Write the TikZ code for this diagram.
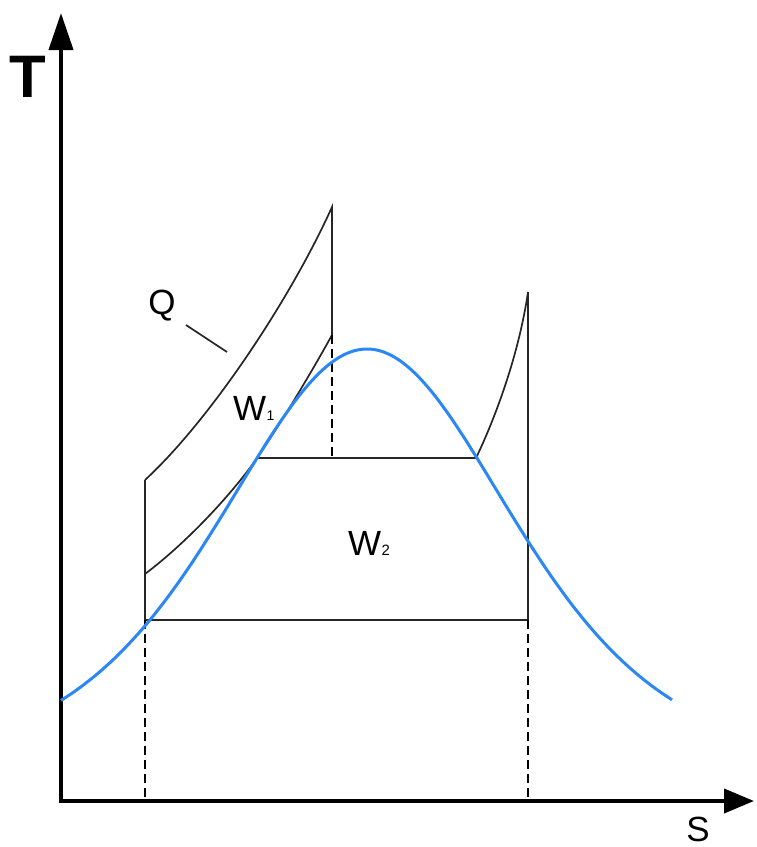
\documentclass[tikz,border=0pt]{standalone}
\usepackage{fontspec}
\setmainfont{Liberation Sans}
\usetikzlibrary{arrows.meta}
\definecolor{domeblue}{HTML}{2B87F5}

\begin{document}
\begin{tikzpicture}[
    x=1pt, y=-1pt,
    axis/.style={line width=4pt, {Triangle[length=37pt,width=24pt]}-{Triangle[length=30pt,width=24pt]}},
    cyc/.style={line width=1.7pt, black!85},
    guide/.style={line width=1.3pt, dash pattern=on 9pt off 5pt},
    dome/.style={line width=3pt, domeblue},
    lbl/.style={inner sep=0pt, font=\fontsize{35}{35}\selectfont},
]
    \useasboundingbox (0,0) rectangle (756,847);

    % axes
    \coordinate (ttip) at (61,13);
    \coordinate (o) at (61,801);
    \coordinate (stip) at (754,801);
    \draw[axis] (ttip) -- (o) -- (stip);
    \node[inner sep=0pt, font=\fontsize{60}{60}\selectfont\bfseries] (tlabel) at (28,77) {T};
    \node[inner sep=0pt, font=\fontsize{35}{35}\selectfont, anchor=base] (slabel) at (698,841) {S};

    % cycle points
    \coordinate (pin) at (145,620);
    \coordinate (pout) at (528,620);
    \coordinate (hp) at (145,480);
    \coordinate (hptop) at (332,207);
    \coordinate (rh) at (332,335);
    \coordinate (lo) at (145,574);
    \coordinate (satl) at (257,458);
    \coordinate (satr) at (476,458);
    \coordinate (lptop) at (528,292);

    % cycle
    \draw[cyc] (hp) .. controls (210,420) and (290,300) .. (hptop) -- (rh);
    \draw[cyc] (lo) .. controls (190,540) and (235,490) .. (satl)
        .. controls (279,426) and (310,375) .. (rh);
    \draw[cyc] (hp) -- (pin) -- (pout) -- (lptop);
    \draw[cyc] (satl) -- (satr);
    \draw[cyc] (satr) .. controls (492,425) and (518,360) .. (lptop);

    % guides
    \draw[guide] (pin) -- (pin |- o);
    \draw[guide] (pout) -- (pout |- o);
    \draw[guide] (rh) -- (rh |- satl);

    % saturation dome
    \draw[dome] plot[domain=61:672, samples=120, smooth] (\x, {349+418*tanh((\x-367)/195)^2});

    % labels
    \node[lbl] (qlabel) at (162,306) {Q};
    \coordinate (qa) at (186,325);
    \coordinate (qb) at (227,352);
    \draw[cyc] (qa) -- (qb);
    \node[lbl, anchor=base west] (wonelabel) at (233,420) {W\kern0.5pt{\fontsize{14}{14}\selectfont 1}};
    \node[lbl, anchor=base west] (wtwolabel) at (348,555) {W\kern0.5pt{\fontsize{15}{15}\selectfont 2}};
\end{tikzpicture}
\end{document}
